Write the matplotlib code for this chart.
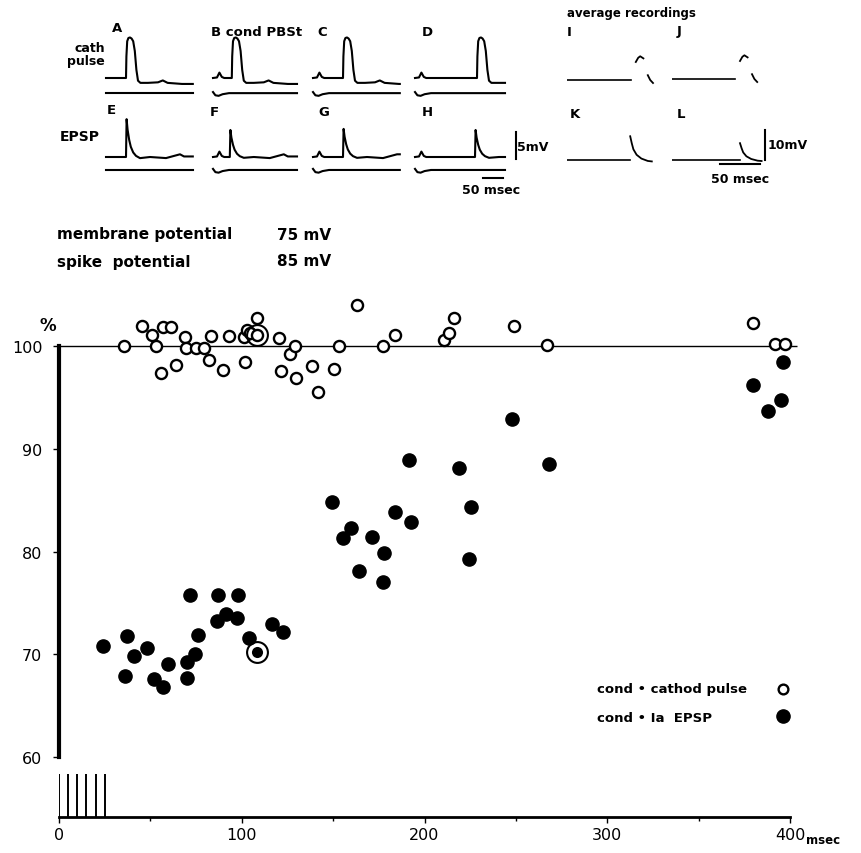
import matplotlib
matplotlib.use('Agg')
import matplotlib.pyplot as plt
from matplotlib.lines import Line2D

plt.rcParams['font.family'] = 'DejaVu Sans'

W, H = 861, 854

# ---------------- interval curve (msec after conditioning, % of control) ----------------
cath_ms = [35.7, 45.4, 50.7, 53.1, 56.9, 61.3, 55.8, 64.2, 69.2, 69.5, 75.1, 79.6,
           83.3, 81.9, 89.7, 93.2, 101.9, 101.1, 103.0, 104.5, 108.1, 120.5, 121.6,
           126.4, 129.2, 129.7, 138.2, 141.6, 150.4, 153.0, 163.3, 177.3, 183.9,
           210.7, 213.4, 216.1, 249.0, 267.0, 380.0, 392.0, 397.0]
cath_pct = [100.0, 102.0, 101.1, 100.0, 101.9, 101.9, 97.4, 98.2, 100.9, 99.9, 99.9, 99.9,
            101.0, 98.7, 97.7, 101.0, 98.5, 100.9, 101.6, 101.3, 102.8, 100.8, 97.6,
            99.3, 100.0, 96.9, 98.1, 95.6, 97.8, 100.0, 104.0, 100.0, 101.1,
            100.6, 101.3, 102.8, 102.0, 100.1, 102.3, 100.2, 100.2]
epsp_ms = [23.9, 37.0, 41.0, 36.1, 48.3, 52.0, 57.1, 59.8, 69.9, 70.2, 74.4, 75.9,
           71.7, 86.6, 91.4, 97.2, 87.2, 98.1, 104.1, 116.4, 122.7, 149.6, 159.6,
           155.6, 164.3, 171.1, 177.8, 177.5, 183.9, 191.7, 192.4, 218.9, 225.4,
           224.5, 248.0, 268.0, 380.0, 388.0, 395.0, 396.0]
epsp_pct = [70.8, 71.8, 69.8, 67.9, 70.6, 67.6, 66.8, 69.0, 69.2, 67.7, 70.0, 71.9,
            75.8, 73.2, 73.9, 73.5, 75.8, 75.8, 71.6, 72.9, 72.1, 84.8, 82.3,
            81.3, 78.1, 81.4, 79.9, 77.0, 83.9, 88.9, 82.9, 88.1, 84.3,
            79.3, 92.9, 88.5, 96.2, 93.7, 94.8, 98.5]
ringed_ms = [108.2, 108.5]      # sample sweeps shown above
ringed_pct = [101.1, 70.2]
stim_ms = [0, 5, 10, 15, 20, 25]
control_pct = 100
xticks = [0, 100, 200, 300, 400]
yticks = [60, 70, 80, 90, 100]
legend_labels = ['cond • cathod pulse', 'cond • Ia  EPSP']

# ---------------- sample sweeps (msec, mV) ----------------
spike_t = [0, 1, 3, 6, 10, 14, 18, 22, 26, 30, 36]
spike_v = [0, 4, 6.8, 7.4, 7.5, 7.3, 6.8, 5.0, 1.5, -0.5, -0.9]
spike_tail_t = [55, 80, 92, 104, 140, 170]
spike_tail_v = [-0.9, -0.8, -0.45, -0.9, -1.1, -1.3]
psp_t = [0, 1.5, 4, 8, 12, 18, 25, 35]
psp_frac = [0, 1.0, 0.72, 0.45, 0.27, 0.12, 0.03, -0.03]
psp_tail_t = [60, 100, 115, 125, 135, 145]
psp_tail_v = [0, -0.2, 0.1, 0.3, 0.5, 0.1]
cond_t = [10, 16, 22, 28]
cond_v = [0.1, 1.0, 0.2, 0]
lower_t = [0, 6, 14, 24, 40]
lower_v = [-2.6, -3.2, -3.3, -3.0, -2.8]

cath_onset = [50, 47, 75, 155]      # A B C D
epsp_onset = [50, 42, 75, 150]      # E F G H
epsp_amp = [7.0, 5.0, 5.2, 5.0]
sweep_end = [217, 210, 217, 225]
cond_shown = [False, True, True, True]

avg_spike_t = [0, 3, 5.5, 9.5, None, 15, 18, 21.5]
avg_spike_v = [6.0, 7.4, 7.9, 7.2, None, 1.6, 0, -1.0]
avg_psp_t = [0, 2, 4, 8, 14, 22, 27]
avg_psp_frac = [1.0, 0.7, 0.45, 0.22, 0.06, -0.04, -0.06]
avg_onset = [86, 85, 79, 85]        # I J K L
avg_amp = [1, 1, 7.9, 5.6]

fig = plt.figure(figsize=(W / 100, H / 100), dpi=100)


def box(x0, y0, x1, y1):
    return [x0 / W, 1 - y1 / H, (x1 - x0) / W, (y1 - y0) / H]


def panel(x_left, y_base, ms_px, mv_px, w=100, up=50, down=25):
    a = fig.add_axes(box(x_left, y_base - up, x_left + w, y_base + down))
    a.set_xlim(0, w * ms_px)
    a.set_ylim(-down * mv_px, up * mv_px)
    a.axis('off')
    return a


def sweep(onset, shape_t, shape_v, tail_t, tail_v, end, cond):
    t, v = [0], [0]
    if cond:
        t += cond_t
        v += cond_v
    t.append(onset)
    v.append(0)
    for st, sv in zip(shape_t + tail_t, shape_v + tail_v):
        if onset + st <= end:
            t.append(onset + st)
            v.append(sv)
    t.append(end)
    v.append(v[-1])
    return t, v


def lower(end, cond):
    if not cond:
        return [0, end], [-2.8, -2.8]
    return lower_t + [end], lower_v + [lower_v[-1]]


lefts = [106, 213, 313, 415]
lw_tr = 1.5
for i in range(4):
    # cathodal pulse row
    a = panel(lefts[i], 79, 2.5, 0.185)
    t, v = sweep(cath_onset[i], spike_t, spike_v, spike_tail_t, spike_tail_v,
                 sweep_end[i], cond_shown[i])
    a.plot(t, v, color='k', lw=lw_tr, clip_on=False)
    t, v = lower(sweep_end[i], cond_shown[i])
    a.plot(t, v, color='k', lw=lw_tr, clip_on=False)
    # EPSP row
    a = panel(lefts[i], 158, 2.5, 0.185)
    shape_v = [f * epsp_amp[i] for f in psp_frac]
    t, v = sweep(epsp_onset[i], psp_t, shape_v, psp_tail_t, psp_tail_v,
                 sweep_end[i], cond_shown[i])
    a.plot(t, v, color='k', lw=lw_tr, clip_on=False)
    t, v = lower(sweep_end[i], cond_shown[i])
    a.plot(t, [y + 0.4 for y in v], color='k', lw=lw_tr, clip_on=False)
    if i == 3:
        a.plot([252, 252], [-0.4, 4.6], color='k', lw=1.5, clip_on=False)
        a.text(256, 2.0, '5mV', fontsize=9, fontweight='bold', va='center')
        a.plot([170, 220], [-3.9, -3.9], color='k', lw=1.5, clip_on=False)
        a.text(190, -6.0, '50 msec', fontsize=9, fontweight='bold', ha='center', va='center')

# average recordings
avg_lefts = [567, 672, 567, 672]
avg_base = [81, 80, 161, 161]
for i in range(4):
    a = panel(avg_lefts[i], avg_base[i], 1.25, 0.333)
    a.plot([0, avg_onset[i] - 6 if i < 2 else avg_onset[i]], [0, 0], color='k', lw=1.2)
    if i < 2:
        ts = [float('nan') if s is None else avg_onset[i] + s for s in avg_spike_t]
        vs = [float('nan') if s is None else s for s in avg_spike_v]
        a.plot(ts, vs, color='k', lw=1.3)
    else:
        ts = [avg_onset[i] + s for s in avg_psp_t]
        vs = [f * avg_amp[i] for f in avg_psp_frac]
        a.plot(ts, vs, color='k', lw=1.3)
    if i == 3:
        a.plot([116, 116], [0, 10], color='k', lw=1.5, clip_on=False)
        a.text(120, 5, '10mV', fontsize=9, fontweight='bold', va='center')
        a.plot([60, 110], [-1.4, -1.4], color='k', lw=1.5, clip_on=False)
        a.text(85, -6.0, '50 msec', fontsize=9, fontweight='bold', ha='center', va='center')

tb = dict(fontsize=9.5, fontweight='bold', va='center')
for lab, x, y in [('A', 112, 28), ('B cond PBSt', 211, 32), ('C', 317, 32), ('D', 422, 32),
                  ('E', 107, 110), ('F', 210, 112), ('G', 318, 113), ('H', 422, 113),
                  ('I', 567, 32), ('J', 677, 32), ('K', 570, 115), ('L', 677, 115)]:
    fig.text(x / W, 1 - y / H, lab, ha='left', **tb)
fig.text(567 / W, 1 - 13 / H, 'average recordings', ha='left', fontsize=8.5,
         fontweight='bold', va='center')
fig.text(105 / W, 1 - 55 / H, 'cath\npulse', ha='right', fontsize=9, fontweight='bold',
         va='center', linespacing=1.1)
fig.text(60 / W, 1 - 137 / H, 'EPSP', ha='left', fontsize=10, fontweight='bold', va='center')

tm = dict(fontsize=11, fontweight='bold', va='center')
fig.text(57 / W, 1 - 235 / H, 'membrane potential', **tm)
fig.text(277 / W, 1 - 235 / H, '75 mV', **tm)
fig.text(57 / W, 1 - 262 / H, 'spike  potential', **tm)
fig.text(277 / W, 1 - 262 / H, '85 mV', **tm)

# ---------------- main graph ----------------
ax = fig.add_axes(box(59, 347.5, 790, 818))
ax.set_xlim(0, 400)
ax.set_ylim(54.1, 100)
ax.hlines(control_pct, 0, 404, color='k', lw=1, clip_on=False)
ax.plot(cath_ms, cath_pct, 'o', ms=8, mfc='white', mec='k', mew=1.7, clip_on=False,
        zorder=3)
ax.plot(epsp_ms, epsp_pct, 'o', ms=9.5, mfc='k', mec='k', clip_on=False, zorder=3)
ax.plot(ringed_ms[:1], ringed_pct[:1], 'o', ms=8, mfc='white', mec='k', mew=1.7,
        clip_on=False, zorder=3)
ax.plot(ringed_ms[1:], ringed_pct[1:], 'o', ms=9.5, mfc='k', mec='white', mew=1.5,
        clip_on=False, zorder=3)
ax.plot(ringed_ms, ringed_pct, 'o', ms=15, mfc='none', mec='k', mew=1.5,
        clip_on=False, zorder=4)
ax.vlines(stim_ms, 54.1, 58.3, color='k', lw=1.4)

for s in ['top', 'right']:
    ax.spines[s].set_visible(False)
ax.spines['left'].set_bounds(60, 100)
ax.spines['left'].set_linewidth(3)
ax.spines['bottom'].set_linewidth(2)
ax.set_xticks(xticks)
ax.set_xticks(range(50, 400, 100), minor=True)
ax.set_yticks(yticks)
ax.tick_params(axis='both', which='major', labelsize=11.5, length=4, width=1)
ax.tick_params(axis='x', which='minor', length=3, width=1)
ax.tick_params(axis='y', pad=8)
ax.text(-6, 102.1, '%', fontsize=12, fontweight='bold', ha='center', va='center')
ax.text(409, 51.95, 'msec', fontsize=8.5, fontweight='bold', ha='left', va='center')

# legend: markers via the legend, labels left-aligned as in the print
h1 = Line2D([], [], ls='none', marker='o', ms=7, mfc='white', mec='k', mew=1.7)
h2 = Line2D([], [], ls='none', marker='o', ms=9.5, mfc='k', mec='k')
ax.legend([h1, h2], ['', ''], frameon=False, loc='center',
          bbox_to_anchor=(783 / W, 1 - 704 / H), bbox_transform=fig.transFigure,
          fontsize=10, labelspacing=0.95, handlelength=1, handletextpad=0, borderpad=0)
for k, lab in enumerate(legend_labels):
    fig.text(597 / W, 1 - (690 + 28 * k) / H, lab, fontsize=9.5, fontweight='bold',
             va='center', ha='left')

fig.savefig('out.png', dpi=100)
